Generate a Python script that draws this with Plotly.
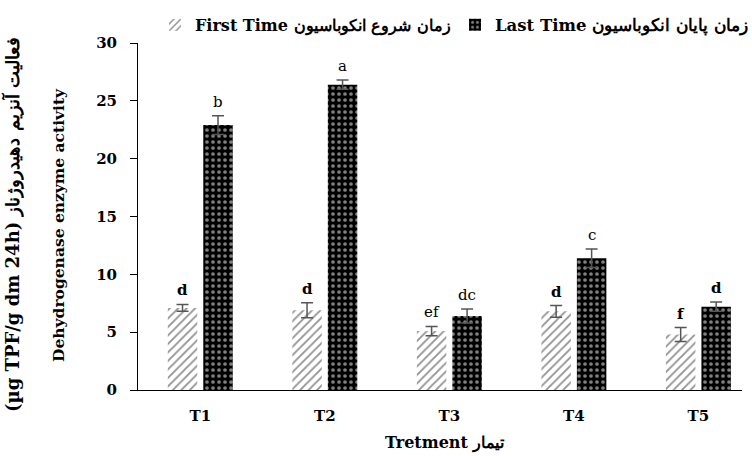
import plotly.graph_objects as go

categories = ["T1", "T2", "T3", "T4", "T5"]
first_vals = [7.1, 6.9, 5.1, 6.8, 4.8]
first_err = [0.3, 0.65, 0.4, 0.5, 0.6]
first_letters = ["d", "d", "ef", "d", "f"]
last_vals = [22.9, 26.4, 6.4, 11.4, 7.2]
last_err = [0.8, 0.4, 0.6, 0.8, 0.4]
last_letters = ["b", "a", "dc", "c", "d"]

first_name = "First Time زمان شروع انکوباسیون"
last_name = "Last Time زمان پایان انکوباسیون"
y_title_1 = "(µg TPF/g dm 24h) فعالیت آنزیم دهیدروژناز"
y_title_2 = "Dehydrogenase enzyme activity"
x_title = "Tretment تیمار"

FONT = "DejaVu Serif"
BARGAP = 0.43
BARGROUPGAP = 0.17

xs = list(range(len(categories)))
fig = go.Figure()
fig.add_trace(go.Bar(
    x=xs, y=first_vals, name=first_name, legend="legend", showlegend=True,
    marker=dict(color="white", line=dict(width=0),
                pattern=dict(shape="/", fgcolor="#222", bgcolor="white", size=6, solidity=0.3)),
    error_y=dict(type="data", array=first_err, color="#555", thickness=1.5, width=6),
))
fig.add_trace(go.Bar(
    x=xs, y=last_vals, name=last_name, legend="legend2", showlegend=True,
    marker=dict(color="black", line=dict(width=0),
                pattern=dict(shape=".", fgcolor="white", bgcolor="black", size=6, solidity=0.3)),
    error_y=dict(type="data", array=last_err, color="#555", thickness=1.5, width=6),
))

off = (1 - BARGAP) / 4
annotations = []
for i in xs:
    for sign, vals, errs, letters in ((-1, first_vals, first_err, first_letters),
                                      (1, last_vals, last_err, last_letters)):
        t = letters[i]
        bold = t in ("d", "f")
        annotations.append(dict(
            x=i + sign * off, y=vals[i] + errs[i], xref="x", yref="y",
            text=("<b>%s</b>" % t) if bold else t, showarrow=False,
            yanchor="bottom", yshift=3,
            font=dict(family=FONT, size=15, color="black"),
        ))

annotations.append(dict(x=12, y=225, xref="paper", yref="paper", xanchor="center", yanchor="middle",
                        text="<b>%s</b>" % y_title_1, textangle=-90, showarrow=False,
                        font=dict(family=FONT, size=18, color="black")))
annotations.append(dict(x=58, y=225, xref="paper", yref="paper", xanchor="center", yanchor="middle",
                        text="<b>%s</b>" % y_title_2, textangle=-90, showarrow=False,
                        font=dict(family=FONT, size=15.5, color="black")))
annotations.append(dict(x=445, y=443, xref="paper", yref="paper", xanchor="center", yanchor="middle",
                        text="<b>%s</b>" % x_title, showarrow=False,
                        font=dict(family=FONT, size=16, color="black")))

# convert pixel positions of free texts to paper coordinates
L, R, T, B, W, H = 138, 10, 43, 66, 752, 456
pw, ph = W - L - R, H - T - B
for a in annotations[-3:]:
    a["x"] = (a["x"] - L) / pw
    a["y"] = (H - B - a["y"]) / ph

fig.update_layout(
    width=W, height=H,
    margin=dict(l=L, r=R, t=T, b=B, autoexpand=False),
    paper_bgcolor="white", plot_bgcolor="white",
    showlegend=True,
    barmode="group", bargap=BARGAP, bargroupgap=BARGROUPGAP,
    font=dict(family=FONT, color="black"),
    legend=dict(orientation="h", x=(155 - L) / pw, y=1 + (T - 25) / ph, xanchor="left", yanchor="middle",
                font=dict(family=FONT, size=16, color="black", weight="bold"), bgcolor="rgba(0,0,0,0)"),
    legend2=dict(orientation="h", x=(455 - L) / pw, y=1 + (T - 25) / ph, xanchor="left", yanchor="middle",
                 font=dict(family=FONT, size=16.5, color="black", weight="bold"), bgcolor="rgba(0,0,0,0)"),
    annotations=annotations,
    xaxis=dict(range=[-0.5, 4.35], tickmode="array", tickvals=xs, ticktext=categories,
               showline=True, linecolor="black", linewidth=1, ticks="", showgrid=False,
               zeroline=False, ticklabelstandoff=12, automargin=False,
               tickfont=dict(family=FONT, size=15, color="black", weight="bold")),
    yaxis=dict(range=[0, 30], dtick=5, tick0=0, showline=True, linecolor="black", linewidth=1,
               ticks="outside", ticklen=7, tickcolor="black", showgrid=False, zeroline=False,
               ticklabelstandoff=10, automargin=False,
               tickfont=dict(family=FONT, size=15, color="black", weight="bold")),
)

fig.write_html("out.html", config={"displayModeBar": False},
               post_script="document.body.style.margin='0';document.body.style.overflow='hidden';")
